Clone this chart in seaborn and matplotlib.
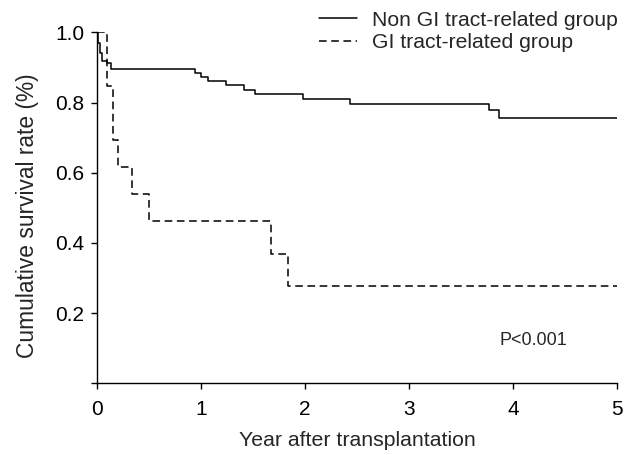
import pandas as pd
import matplotlib.pyplot as plt
import seaborn as sns

# Kaplan-Meier steps (time in years, survival fraction)
non_gi_time = [0, 0.0125, 0.029, 0.05, 0.096, 0.13, 0.942, 0.997, 1.067, 1.24,
               1.41, 1.52, 1.98, 2.43, 3.77, 3.87, 5.0]
non_gi_surv = [1.0, 0.969, 0.941, 0.919, 0.912, 0.895, 0.885, 0.872, 0.861, 0.849,
               0.836, 0.824, 0.810, 0.796, 0.779, 0.757, 0.757]

gi_time = [0, 0.1, 0.157, 0.2, 0.334, 0.503, 1.673, 1.834, 5.0]
gi_surv = [1.0, 0.846, 0.692, 0.615, 0.538, 0.462, 0.369, 0.277, 0.277]

labels = ['Non GI tract-related group', 'GI tract-related group']
x_ticks = [0, 1, 2, 3, 4, 5]
y_ticks = [0, 0.2, 0.4, 0.6, 0.8, 1.0]
y_tick_labels = ['', '0.2', '0.4', '0.6', '0.8', '1.0']

df_non = pd.DataFrame({'Year': non_gi_time, 'Survival': non_gi_surv})
df_gi = pd.DataFrame({'Year': gi_time, 'Survival': gi_surv})

sns.set_style('ticks')
plt.rcParams['font.family'] = ['Liberation Sans', 'DejaVu Sans']

fig = plt.figure(figsize=(6.34, 4.55), dpi=100)
ax = fig.add_axes([0.153, 0.1576, 0.820, 0.7714])

sns.lineplot(x='Year', y='Survival', data=df_non, ax=ax, color='black',
             linewidth=1.1, drawstyle='steps-post', estimator=None, label=labels[0])
sns.lineplot(x='Year', y='Survival', data=df_gi, ax=ax, color='black',
             linewidth=1.1, drawstyle='steps-post', estimator=None, label=labels[1])
ax.lines[1].set_linestyle((0, (5, 3)))

ax.set_xlim(0, 5)
ax.set_ylim(0, 1)
ax.set_xticks(x_ticks)
ax.set_yticks(y_ticks)
ax.set_yticklabels(y_tick_labels)
ax.tick_params(direction='out', length=4, width=1, labelsize=15, colors='black')
ax.tick_params(axis='x', pad=8)
ax.tick_params(axis='y', pad=5)
for s in ['top', 'right']:
    ax.spines[s].set_visible(False)
for s in ['left', 'bottom']:
    ax.spines[s].set_linewidth(1)
    ax.spines[s].set_color('black')

ax.set_xlabel('Year after transplantation', fontsize=15.3, labelpad=9)
ax.set_ylabel('Cumulative survival rate (%)', fontsize=16.4)
ax.yaxis.set_label_coords(-0.111, 0.477)

ax.text(4.2, 0.123, 'P<0.001', fontsize=13, ha='center', va='center')

ax.legend_.remove()
handles = ax.lines[:2]
fig.legend(handles, labels, loc='upper right', bbox_to_anchor=(0.994, 1.004),
           frameon=False, fontsize=15.2, handlelength=1.8, handletextpad=0.7,
           labelspacing=0.15, borderpad=0.1)

plt.savefig('out.png', dpi=100)
